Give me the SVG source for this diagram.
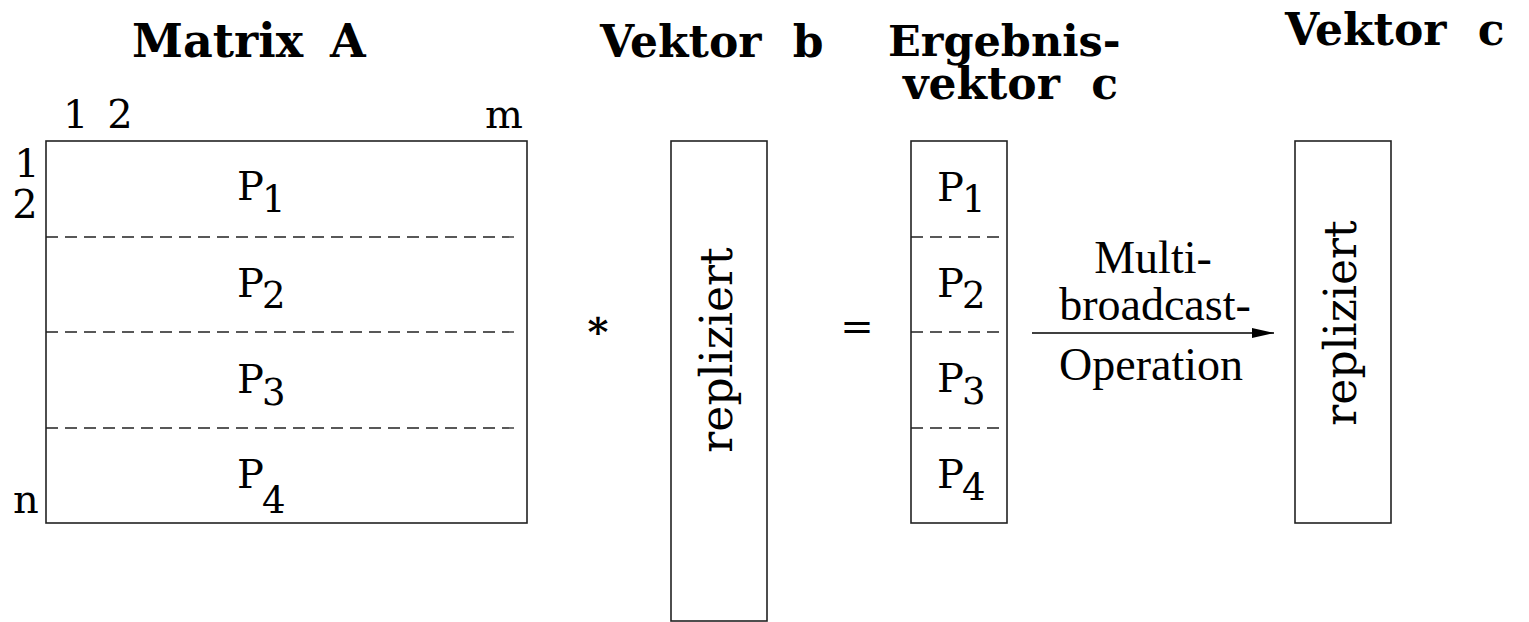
<svg xmlns="http://www.w3.org/2000/svg" width="1529" height="622" viewBox="0 0 1529 622">
<style>
.box{fill:#fff;stroke:#222;stroke-width:1.6}
.dash{stroke:#222;stroke-width:1.3;stroke-dasharray:12 7;fill:none}
.title{font-family:"DejaVu Serif",serif;font-weight:bold;font-size:44px;fill:#000}
.lab{font-family:"DejaVu Serif",serif;font-size:40px;fill:#000}
.sub{font-size:37px}
.rep{font-family:"DejaVu Serif",serif;font-size:44px;fill:#000}
.times{font-family:"Liberation Serif",serif;font-size:46px;fill:#000}
</style>
<defs>
<marker id="ah" markerWidth="22" markerHeight="10" refX="22" refY="5" orient="auto" markerUnits="userSpaceOnUse">
<path d="M0,0 L22,5 L0,10 Z" fill="#000"/>
</marker>
</defs>

<g id="titles">
<text class="title" x="132" y="57" style="font-size:46px" word-spacing="11">Matrix A</text>
<text class="title" x="600" y="57" word-spacing="16">Vektor b</text>
<text class="title" x="888" y="56" style="font-size:43px">Ergebnis-</text>
<text class="title" x="903" y="99" word-spacing="16">vektor c</text>
<text class="title" x="1285" y="45" word-spacing="16">Vektor c</text>
</g>

<g id="matrixA">
<rect class="box" x="46" y="141" width="481" height="382"/>
<line class="dash" x1="46" y1="237" x2="519" y2="237"/>
<line class="dash" x1="46" y1="332" x2="519" y2="332"/>
<line class="dash" x1="46" y1="428" x2="519" y2="428"/>
<text class="lab" x="63" y="128" word-spacing="6">1 2</text>
<text class="lab" x="523" y="128" text-anchor="end">m</text>
<text class="lab" x="27" y="177" text-anchor="middle">1</text>
<text class="lab" x="25" y="218" text-anchor="middle">2</text>
<text class="lab" x="26" y="513" text-anchor="middle">n</text>
<text class="lab" x="237" y="200">P<tspan class="sub" dx="-2" dy="12">1</tspan></text>
<text class="lab" x="237" y="297">P<tspan class="sub" dx="-2" dy="11">2</tspan></text>
<text class="lab" x="237" y="393">P<tspan class="sub" dx="-2" dy="12">3</tspan></text>
<text class="lab" x="237" y="488">P<tspan class="sub" dx="-2" dy="25">4</tspan></text>
</g>

<g id="op-mul">
<text class="title" x="598" y="346" text-anchor="middle" style="font-size:40px">*</text>
</g>

<g id="vektorB">
<rect class="box" x="671" y="141" width="96" height="480"/>
<text class="rep" transform="translate(732,350) rotate(-90)" text-anchor="middle">repliziert</text>
</g>

<g id="op-eq">
<text class="lab" x="857" y="340" text-anchor="middle">=</text>
</g>

<g id="ergebnisC">
<rect class="box" x="911" y="141" width="96" height="382"/>
<line class="dash" x1="911" y1="237" x2="999" y2="237"/>
<line class="dash" x1="911" y1="332" x2="999" y2="332"/>
<line class="dash" x1="911" y1="428" x2="999" y2="428"/>
<text class="lab" x="937" y="201">P<tspan class="sub" dx="-2" dy="11">1</tspan></text>
<text class="lab" x="937" y="297">P<tspan class="sub" dx="-2" dy="11">2</tspan></text>
<text class="lab" x="937" y="392">P<tspan class="sub" dx="-2" dy="12">3</tspan></text>
<text class="lab" x="937" y="488">P<tspan class="sub" dx="-2" dy="12">4</tspan></text>
</g>

<g id="vektorC">
<rect class="box" x="1295" y="141" width="96" height="382"/>
<text class="rep" transform="translate(1356,323) rotate(-90)" text-anchor="middle">repliziert</text>
</g>

<g id="connectors">
<line x1="1032" y1="333" x2="1274" y2="333" stroke="#000" stroke-width="1.6" marker-end="url(#ah)"/>
<text class="times" x="1153" y="273" text-anchor="middle">Multi-</text>
<text class="times" x="1155" y="320" text-anchor="middle">broadcast-</text>
<text class="times" x="1151" y="380" text-anchor="middle">Operation</text>
</g>
</svg>
